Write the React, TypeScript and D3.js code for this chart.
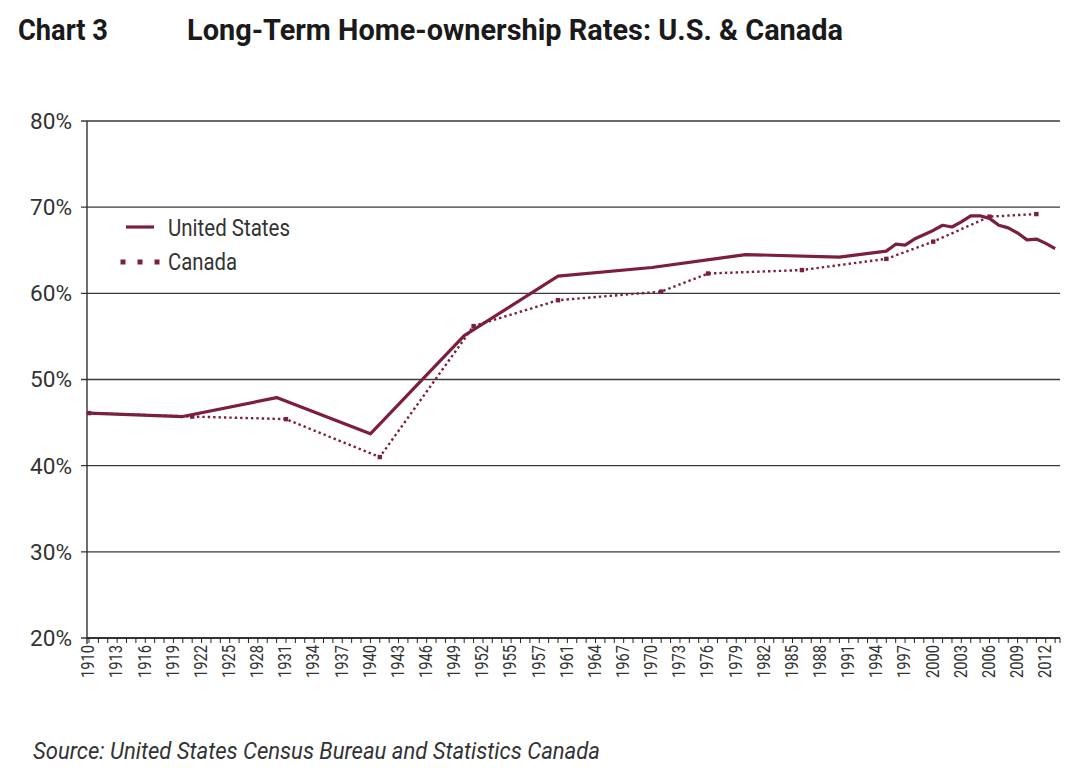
import React from "react";
import * as d3 from "d3";

const usYears = [1910, 1920, 1930, 1940, 1950, 1960, 1970, 1980, 1990, 1995, 1996, 1997, 1998, 1999, 2000, 2001, 2002, 2003, 2004, 2005, 2006, 2007, 2008, 2009, 2010, 2011, 2012, 2013];
const usRates = [46.1, 45.7, 47.9, 43.7, 55.1, 62.0, 63.0, 64.5, 64.2, 64.9, 65.7, 65.6, 66.3, 66.8, 67.3, 67.9, 67.7, 68.3, 69.0, 69.0, 68.7, 67.9, 67.6, 67.0, 66.2, 66.3, 65.8, 65.2];

const caYears = [1910, 1921, 1931, 1941, 1951, 1960, 1971, 1976, 1986, 1995, 2000, 2006, 2011];
const caRates = [46.1, 45.7, 45.4, 41.0, 56.2, 59.2, 60.2, 62.3, 62.7, 64.0, 66.0, 68.9, 69.2];

const yTicks = [20, 30, 40, 50, 60, 70, 80];
const xTickLabels = ["1910", "1913", "1916", "1919", "1922", "1925", "1928", "1931", "1934", "1937", "1940", "1943", "1946", "1949", "1952", "1955", "1957", "1961", "1964", "1967", "1970", "1973", "1976", "1979", "1982", "1985", "1988", "1991", "1994", "1997", "2000", "2003", "2006", "2009", "2012"];
const firstYear = 1910;
const lastYear = 2013;

const COLOR = "#7b1f3c";
const FONT = "'Liberation Sans Narrow', 'Roboto', 'Liberation Sans', Arial, sans-serif";

export default function App() {
  const W = 1080, H = 776;
  const left = 87, axisRight = 1060;
  const step = 9.38;
  const x = d3.scaleLinear().domain([firstYear, lastYear]).range([left + 2, left + 2 + (lastYear - firstYear) * step]);
  const y = d3.scaleLinear().domain([20, 80]).range([638, 121]);

  const usData = usYears.map((yr, i) => [yr, usRates[i]] as [number, number]);
  const caData = caYears.map((yr, i) => [yr, caRates[i]] as [number, number]);
  const line = d3.line<[number, number]>().x(d => x(d[0])).y(d => y(d[1]));

  const years = d3.range(firstYear, lastYear + 1);

  return (
    <div style={{ position: "absolute", left: 0, top: 0 }}>
      <svg width={W} height={H} style={{ display: "block", background: "#fff" }}>
        {/* Title */}
        <text x={18} y={40} fontFamily={FONT} fontWeight="bold" fontSize={30} fill="#1a1a1a" textLength={90} lengthAdjust="spacingAndGlyphs">Chart 3</text>
        <text x={187} y={40} fontFamily={FONT} fontWeight="bold" fontSize={30} fill="#1a1a1a" textLength={656} lengthAdjust="spacingAndGlyphs">Long-Term Home-ownership Rates: U.S. &amp; Canada</text>

        {/* gridlines & y ticks */}
        {yTicks.map(t => (
          <g key={t}>
            <line x1={left - 6} x2={axisRight} y1={y(t)} y2={y(t)} stroke="#3a3a3a" strokeWidth={1.3} />
            <text x={72} y={y(t)} dy="0.36em" textAnchor="end" fontFamily={FONT} fontSize={22} fill="#333" textLength={42} lengthAdjust="spacingAndGlyphs">{t}%</text>
          </g>
        ))}

        {/* y axis */}
        <line x1={left} x2={left} y1={y(80)} y2={644} stroke="#222" strokeWidth={1.3} />
        {/* x axis */}
        <line x1={left} x2={axisRight} y1={y(20)} y2={y(20)} stroke="#222" strokeWidth={1.3} />
        {years.map(yr => (
          <line key={yr} x1={x(yr)} x2={x(yr)} y1={y(20)} y2={y(20) + 5} stroke="#222" strokeWidth={1} />
        ))}
        <line x1={axisRight} x2={axisRight} y1={y(20)} y2={y(20) + 5} stroke="#222" strokeWidth={1} />

        {xTickLabels.map((lab, i) => {
          const px = x(firstYear + i * 3) - 1.5;
          return (
            <text key={lab + i} transform={`translate(${px},${645}) rotate(-90)`} textAnchor="end" dy="0.36em" fontFamily={FONT} fontSize={19} fill="#333" textLength={33} lengthAdjust="spacingAndGlyphs">{lab}</text>
          );
        })}

        {/* Canada dotted */}
        <path d={line(caData) || ""} fill="none" stroke={COLOR} strokeWidth={2.4} strokeDasharray="2.4 3" />
        {caData.map((d, i) => (
          <rect key={i} x={x(d[0]) - 2.2} y={y(d[1]) - 2.2} width={4.4} height={4.4} fill={COLOR} />
        ))}

        {/* US solid */}
        <path d={line(usData) || ""} fill="none" stroke={COLOR} strokeWidth={3.2} strokeLinejoin="round" />

        {/* legend */}
        <line x1={126} x2={154} y1={227} y2={227} stroke={COLOR} strokeWidth={3.2} />
        <text x={168} y={228} dy="0.36em" fontFamily={FONT} fontSize={23} fill="#333" textLength={122} lengthAdjust="spacingAndGlyphs">United States</text>
        {[123, 140, 157].map(px => (
          <rect key={px} x={px - 2.5} y={259.5} width={5} height={5} fill={COLOR} />
        ))}
        <text x={168} y={262} dy="0.36em" fontFamily={FONT} fontSize={23} fill="#333" textLength={69} lengthAdjust="spacingAndGlyphs">Canada</text>

        {/* source */}
        <text x={33} y={759} fontFamily={FONT} fontStyle="italic" fontSize={24} fill="#333" textLength={567} lengthAdjust="spacingAndGlyphs">Source: United States Census Bureau and Statistics Canada</text>
      </svg>
    </div>
  );
}
